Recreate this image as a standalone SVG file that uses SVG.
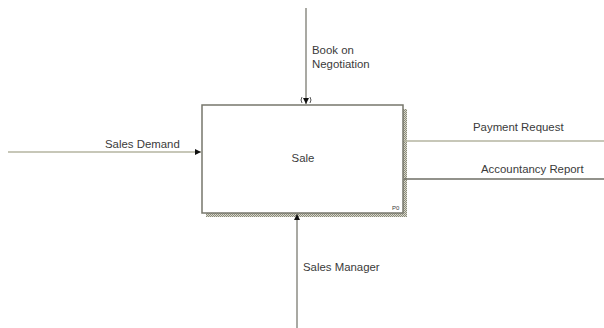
<svg xmlns="http://www.w3.org/2000/svg" width="604" height="328" viewBox="0 0 604 328">
<style>
text{font-family:"Liberation Sans",Arial,sans-serif;font-size:11.4px;fill:#3a3a3a}
.ln{stroke:#8c8c84;stroke-width:1.5;fill:none}
</style>
<defs>
<pattern id="hatch" width="2" height="2" patternUnits="userSpaceOnUse">
<rect width="2" height="2" fill="#d8d8cc"/>
<rect width="1" height="1" fill="#8a8a7a"/>
<rect x="1" y="1" width="1" height="1" fill="#8a8a7a"/>
</pattern>
<marker id="ah" viewBox="0 0 8 8" refX="8" refY="4" markerWidth="6" markerHeight="6" orient="auto" markerUnits="userSpaceOnUse">
<path d="M0,0 L8,4 L0,8 z" fill="#111"/>
</marker>
</defs>
<rect width="604" height="328" fill="#fff"/>
<g id="sale">
<rect x="206" y="109" width="201" height="108" fill="url(#hatch)"/>
<rect x="202" y="105" width="201" height="108" fill="#fff" stroke="#77776c" stroke-width="1.5"/>
<text x="303" y="162" text-anchor="middle">Sale</text>
<text x="392" y="210" style="font-size:6px">P0</text>
</g>
<g id="connectors">
<line class="ln" x1="306" y1="8" x2="306" y2="104" marker-end="url(#ah)"/>
<path d="M302,97 Q300,100 302,103 M310,97 Q312,100 310,103" stroke="#555" fill="none" stroke-width="1"/>
<line class="ln" x1="297" y1="328" x2="297" y2="214" marker-end="url(#ah)"/>
<line x1="8" y1="152" x2="201" y2="152" stroke="#b4b4a0" stroke-width="1.5" marker-end="url(#ah)"/>
<line x1="404" y1="141" x2="604" y2="141" stroke="#b4b4a0" stroke-width="1.5"/>
<line x1="404" y1="179" x2="604" y2="179" stroke="#6e6e64" stroke-width="1.5"/>
</g>
<g id="labels">
<text x="312" y="54">Book on</text>
<text x="312" y="68">Negotiation</text>
<text x="105" y="148">Sales Demand</text>
<text x="473" y="131">Payment Request</text>
<text x="481" y="173">Accountancy Report</text>
<text x="303" y="271">Sales Manager</text>
</g>
</svg>
